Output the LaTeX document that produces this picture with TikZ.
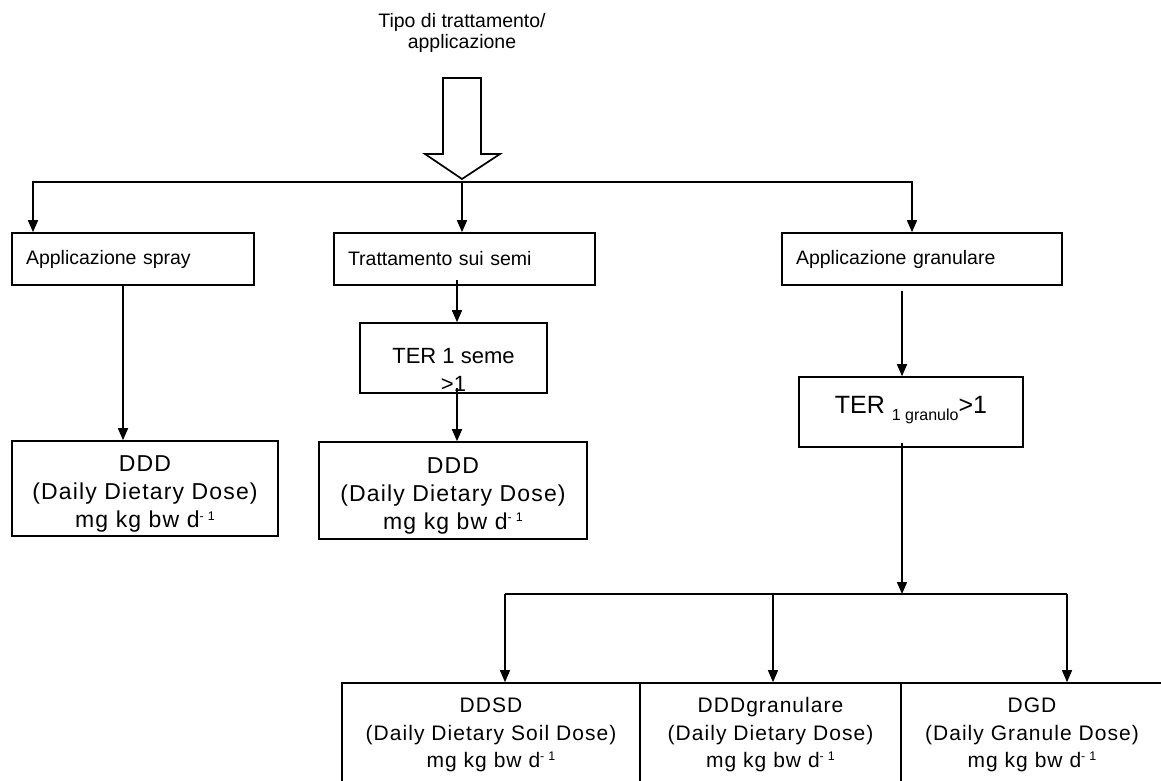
\documentclass[tikz,border=0pt]{standalone}
\usepackage{fontspec}
\setmainfont{Liberation Sans}
\newfontfamily\wideface[LetterSpace=5]{Liberation Sans}
\newfontfamily\widerface[LetterSpace=5]{Liberation Sans}
\usetikzlibrary{arrows.meta}
% esponente "d-1"
\newcommand\perday{{\fontsize{12.5}{12.5}\selectfont\raisebox{7.5pt}{- 1}}}
\tikzset{
  fc/.style={line width=1.6pt, >={Triangle[length=12pt, width=10pt]}},
  titolo/.style={align=center, inner sep=0pt, font=\fontsize{19.5}{21.5}\selectfont},
  topbox/.style={draw, minimum height=52pt, inner xsep=14pt, inner ysep=0pt, align=left, font=\fontsize{19.5}{22}\selectfont},
  terbox/.style={draw, minimum width=187pt, minimum height=70pt, inner sep=0pt},
  tertext/.style={align=center, inner sep=0pt, font=\fontsize{22}{28}\selectfont},
  dosebox/.style={draw, align=center, inner sep=0pt, font=\wideface\fontsize{21}{27.5}\selectfont},
  dosetext/.style={align=center, inner sep=0pt, font=\widerface\fontsize{23}{28}\selectfont},
  bus/.style={line width=1.3pt},
}
\begin{document}
\begin{tikzpicture}[fc, x=1pt, y=-1pt]
\useasboundingbox (0,0) rectangle (1161,781);

% titolo e freccia vuota
\node[titolo] (tipo) at (462,33) {Tipo di trattamento/\\applicazione};
\draw[line width=1.7pt] (443,78) -- (481,78) -- (481,154) -- (500,154) -- (462,179)
  -- (425,154) -- (443,154) -- cycle;

% tipi di applicazione
\node[topbox, text width=214pt] (spray) at (133,259) {Applicazione spray};
\node[topbox, text width=233pt] (semi) at (464.5,259) {Trattamento sui semi};
\node[topbox, text width=252pt] (gran) at (922,259) {Applicazione granulare};

\coordinate (b1) at (33,182);
\coordinate (b2) at (462,182);
\coordinate (b3) at (912,182);
\draw[->] (b2) -- (b1) -- (b1 |- spray.north);
\draw[->] (b2) -- (b3) -- (b3 |- gran.north);
\draw[->] (b2) -- (b2 |- semi.north);

% TER
\node[terbox] (ter1) at (453.5,358) {};
\node[tertext] (ter1txt) at ([yshift=-12pt]ter1.center) {TER 1 seme\\>1};
\node[terbox, minimum width=224pt] (terg) at (911,412) {};
\node[tertext, font=\fontsize{25}{28}\selectfont, anchor=base] (tergtxt) at ([yshift=-1pt]terg.center)
  {TER \raisebox{-7pt}{\fontsize{16}{16}\selectfont 1 granulo}>1};

% dosi
\node[draw, minimum width=266pt, minimum height=95pt] (ddd1) at (145,488.5) {};
\node[dosetext] (ddd1txt) at ([yshift=-5.5pt]ddd1.center)
  {DDD\\(Daily Dietary Dose)\\mg kg bw d\perday};
\node[draw, minimum width=268pt, minimum height=97pt] (ddd2) at (453,490.5) {};
\node[dosetext] (ddd2txt) at ([yshift=-5pt]ddd2.center)
  {DDD\\(Daily Dietary Dose)\\mg kg bw d\perday};

\coordinate (s1) at ([xshift=-10pt]spray.south);
\draw[->] (s1) -- (s1 |- ddd1.north);
\coordinate (s2) at ([xshift=-7.5pt, yshift=6pt]semi.south);
\draw[->] (s2) -- (s2 |- ter1.north);
\coordinate (s3) at ([xshift=3.5pt, yshift=6pt]ter1.south);
\draw[->] (s3) -- (s3 |- ddd2.north);
\coordinate (s4) at ([xshift=-20pt, yshift=-5pt]gran.south);
\draw[->] (s4) -- (s4 |- terg.north);

% granulare: tre dosi
\node[dosebox, minimum width=298pt, minimum height=104pt] (ddsd) at (491,735)
  {DDSD\\(Daily Dietary Soil Dose)\\mg kg bw d\perday};
\node[dosebox, minimum width=261pt, minimum height=104pt] (dddg) at (770.5,735)
  {DDDgranulare\\(Daily Dietary Dose)\\mg kg bw d\perday};
\node[dosebox, minimum width=262pt, minimum height=104pt] (dgd) at (1032,735)
  {DGD\\(Daily Granule Dose)\\mg kg bw d\perday};

\coordinate (s5) at ([xshift=-9pt, yshift=5pt]terg.south);
\coordinate (c1) at (505,594);
\coordinate (c2) at (773,594);
\coordinate (c3) at (1067,594);
\draw[->] (s5) -- (s5 |- c1);
\draw[bus] (c1) -- (c3);
\foreach \c/\n in {c1/ddsd, c2/dddg, c3/dgd}
  \draw[->, bus] (\c) -- (\c |- \n.north);
\end{tikzpicture}
\end{document}
